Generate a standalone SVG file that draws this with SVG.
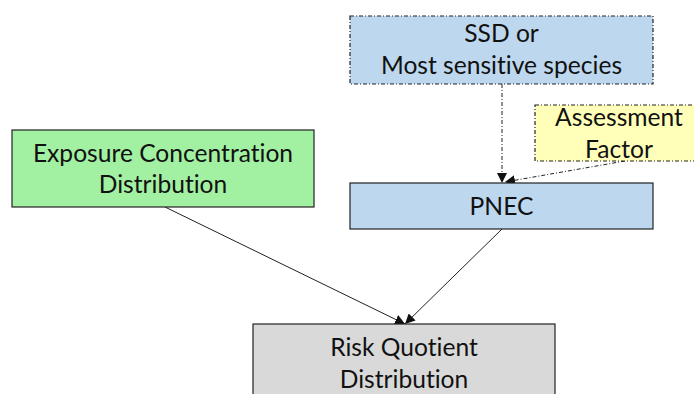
<svg xmlns="http://www.w3.org/2000/svg" width="694" height="394" viewBox="0 0 694 394">
  <style>
    .box { stroke: #222; stroke-width: 1.2; }
    .dash { stroke-dasharray: 4 2 1 2; }
    .lbl { font-family: Lato, "Open Sans", sans-serif; font-size: 24.6px; fill: #111; text-anchor: middle; font-variant-ligatures: none; }
    .edge { stroke: #222; stroke-width: 1; fill: none; marker-end: url(#arrow); }
  </style>
  <defs>
    <marker id="arrow" viewBox="0 0 10 10" refX="10" refY="5" markerWidth="10" markerHeight="10" markerUnits="userSpaceOnUse" orient="auto">
      <path d="M0,0 L10,5 L0,10 z" fill="#111"/>
    </marker>
  </defs>
  <rect width="694" height="394" fill="#fff"/>

  <g id="edges">
    <path class="edge dash" d="M502,84 L502,183"/>
    <path class="edge dash" d="M625,161 L505,182"/>
    <path class="edge" d="M165,207 L405,324"/>
    <path class="edge" d="M502,229 L405,324"/>
  </g>

  <g id="ssd">
    <rect class="box dash" x="350" y="16" width="303" height="68" fill="#bdd7ee"/>
    <text class="lbl" x="501.5" y="42">SSD or</text>
    <text class="lbl" x="501.5" y="74">Most sensitive species</text>
  </g>

  <g id="assessment">
    <rect class="box dash" x="535" y="105" width="170" height="56" fill="#ffffb9"/>
    <text class="lbl" x="619" y="126">Assessment</text>
    <text class="lbl" x="619" y="158">Factor</text>
  </g>

  <g id="exposure">
    <rect class="box" x="12" y="130" width="302" height="77" fill="#a2f0a2"/>
    <text class="lbl" x="163" y="162">Exposure Concentration</text>
    <text class="lbl" x="163" y="193">Distribution</text>
  </g>

  <g id="pnec">
    <rect class="box" x="350" y="183" width="303" height="46" fill="#bdd7ee"/>
    <text class="lbl" x="501.5" y="215">PNEC</text>
  </g>

  <g id="risk">
    <rect class="box" x="253" y="324" width="302" height="80" fill="#d9d9d9"/>
    <text class="lbl" x="404" y="356">Risk Quotient</text>
    <text class="lbl" x="404" y="388">Distribution</text>
  </g>
</svg>
